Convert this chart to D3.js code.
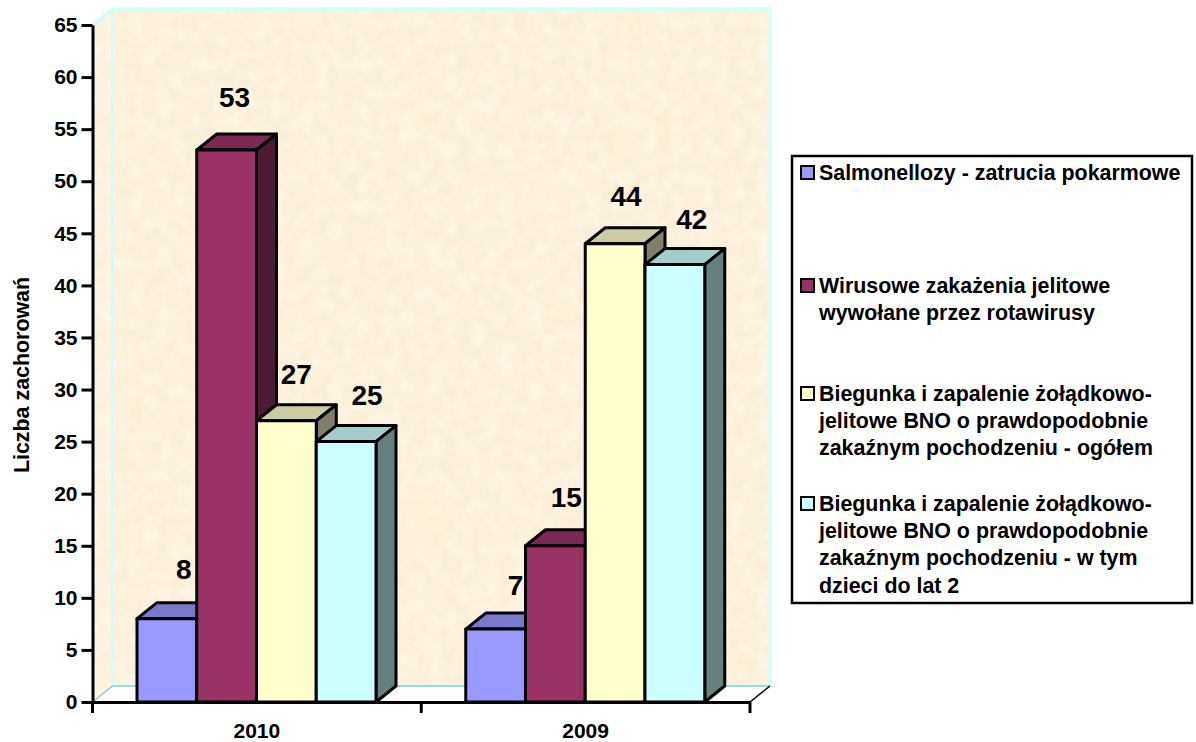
<!DOCTYPE html>
<html>
<head>
<meta charset="utf-8">
<script src="https://cdn.jsdelivr.net/npm/d3@7"></script>
<style>
  body { margin: 0; background: #fff; }
  text { font-family: "Liberation Sans", Arial, sans-serif; font-weight: bold; fill: #000; }
</style>
</head>
<body>
<div id="chart"></div>
<script>
const years = ["2010", "2009"];
const seriesNames = ["salmonella", "rota", "total", "kids"];
const salmonella = [8, 7];
const rota = [53, 15];
const total = [27, 44];
const kids = [25, 42];
const colors = ["#9999ff", "#993366", "#ffffcc", "#ccffff"];
const yTicks = d3.range(0, 70, 5);
const legendLines = [
  ["Salmonellozy - zatrucia pokarmowe"],
  ["Wirusowe zakażenia jelitowe", "wywołane przez rotawirusy"],
  ["Biegunka i zapalenie żołądkowo-", "jelitowe BNO o prawdopodobnie", "zakaźnym pochodzeniu - ogółem"],
  ["Biegunka i zapalenie żołądkowo-", "jelitowe BNO o prawdopodobnie", "zakaźnym pochodzeniu - w tym", "dzieci do lat 2"]
];

const values = [salmonella, rota, total, kids];
const depthX = 20;
const depthY = 16;

const svg = d3.select("#chart").append("svg").attr("width", 1196).attr("height", 742).style("display", "block");

const x = d3.scaleBand().domain(years).range([92.5, 750]);
// bars fill most of the band, no gap between series
const x1 = d3.scaleBand().domain(seriesNames).range([44.5, 283.5]);
const y = d3.scaleLinear().domain([0, 65]).range([702, 25]);

// paper-like texture for the walls
const defs = svg.append("defs");
const paper = defs.append("filter").attr("id", "paper").attr("x", 0).attr("y", 0).attr("width", 1).attr("height", 1)
  .attr("color-interpolation-filters", "sRGB");
paper.append("feTurbulence").attr("type", "fractalNoise").attr("baseFrequency", 0.07).attr("numOctaves", 2).attr("seed", 4).attr("result", "n");
paper.append("feColorMatrix").attr("in", "n").attr("type", "matrix")
  .attr("values", "0 0 0 0 1  0 0 0 0 0.965  0 0 0 0 0.9  2.2 0 0 0 -0.75").attr("result", "spots");
paper.append("feMerge").call((m) => {
  m.append("feMergeNode").attr("in", "SourceGraphic");
  m.append("feMergeNode").attr("in", "spots");
});

const [x0, xEnd] = x.range();
const yBase = y(0);
const yTop = y(65);
const pts = (a) => a.map((p) => p.join(",")).join(" ");

// side wall
svg.append("polygon")
  .attr("points", pts([[x0, yTop], [x0 + depthX, yTop - depthY], [x0 + depthX, yBase - depthY], [x0, yBase]]))
  .attr("fill", "#fcf1dc").attr("filter", "url(#paper)");
// back wall
svg.append("rect")
  .attr("x", x0 + depthX).attr("y", yTop - depthY)
  .attr("width", xEnd - x0).attr("height", yBase - yTop)
  .attr("fill", "#fbefd8").attr("filter", "url(#paper)");
svg.append("path")
  .attr("d", `M${x0},${yTop}L${x0 + depthX},${yTop - depthY}H${xEnd + depthX}V${yBase - depthY}H${x0 + depthX}V${yTop - depthY}`)
  .attr("fill", "none").attr("stroke", "#ccffff").attr("stroke-width", 3);
// floor
svg.append("path")
  .attr("d", `M${x0},${yBase}L${x0 + depthX},${yBase - depthY}H${xEnd + depthX}`)
  .attr("fill", "none").attr("stroke", "#99cccc").attr("stroke-width", 1.5);
svg.append("path")
  .attr("d", `M${xEnd},${yBase}L${xEnd + depthX},${yBase - depthY}`)
  .attr("fill", "none").attr("stroke", "#000").attr("stroke-width", 1.5);

// 3d bars, left to right so the next front hides the previous side
const shade = (c, k) => {
  const r = d3.rgb(c);
  return d3.rgb(r.r * k, r.g * k, r.b * k).formatHex();
};
years.forEach((year, i) => {
  seriesNames.forEach((name, s) => {
    const left = x(year) + x1(name);
    const w = x1.bandwidth();
    const top = y(values[s][i]);
    const g = svg.append("g").attr("stroke", "#000").attr("stroke-width", 3).attr("stroke-linejoin", "round");
    g.append("polygon")
      .attr("points", pts([[left, top], [left + depthX, top - depthY], [left + w + depthX, top - depthY], [left + w, top]]))
      .attr("fill", shade(colors[s], 0.8));
    g.append("polygon")
      .attr("points", pts([[left + w, top], [left + w + depthX, top - depthY], [left + w + depthX, yBase - depthY], [left + w, yBase]]))
      .attr("fill", shade(colors[s], 0.5));
    g.append("rect")
      .attr("x", left).attr("y", top).attr("width", w).attr("height", yBase - top)
      .attr("fill", colors[s]);
  });
});

// value labels, hand nudged like the moved labels in the original
const nudgeX = [[1, -8, -6, 5], [4, -5, -5, 1]];
const nudgeY = [[-2, -5, 1, 1], [4, -1, 0, 2]];
years.forEach((year, i) => {
  seriesNames.forEach((name, s) => {
    svg.append("text")
      .attr("x", x(year) + x1(name) + x1.bandwidth() / 2 + 16 + nudgeX[i][s])
      .attr("y", y(values[s][i]) - depthY - 22 + nudgeY[i][s])
      .attr("text-anchor", "middle")
      .attr("font-size", 28)
      .text(values[s][i]);
  });
});

// axes
const yAxis = svg.append("g")
  .attr("transform", `translate(${x0},0)`)
  .call(d3.axisLeft(y).tickValues(yTicks).tickSize(20).tickPadding(2).tickSizeOuter(0));
yAxis.selectAll(".tick line").attr("x1", -11).attr("x2", 0);
yAxis.selectAll("text").attr("x", -15);
const xAxis = svg.append("g")
  .attr("transform", `translate(0,${yBase})`)
  .call(d3.axisBottom(x).tickSize(0).tickPadding(21).tickSizeOuter(0));
[x0, x0 + x.bandwidth(), xEnd].forEach((t) => {
  xAxis.append("line").attr("x1", t).attr("x2", t).attr("y1", 0).attr("y2", 11);
});
svg.selectAll(".domain, .tick line").attr("stroke", "#000").attr("stroke-width", 3);
xAxis.selectAll("line").attr("stroke", "#000").attr("stroke-width", 3);
svg.selectAll(".tick text").attr("font-size", 21).attr("fill", "#000").style("font-family", "'Liberation Sans', Arial, sans-serif");

svg.append("text")
  .attr("transform", "translate(28.5,375) rotate(-90)")
  .attr("text-anchor", "middle")
  .attr("font-size", 21.4)
  .text("Liczba zachorowań");

// legend
const legend = svg.append("g");
legend.append("rect")
  .attr("x", 792).attr("y", 156).attr("width", 400).attr("height", 447)
  .attr("fill", "#fff").attr("stroke", "#000").attr("stroke-width", 2.5);
const legendTop = [173, 286, 394, 504];
legendLines.forEach((lines, s) => {
  legend.append("rect")
    .attr("x", 801).attr("y", legendTop[s] - 7).attr("width", 13).attr("height", 13)
    .attr("fill", colors[s]).attr("stroke", "#000").attr("stroke-width", 2);
  legend.append("text")
    .attr("font-size", 21.4)
    .selectAll("tspan")
    .data(lines)
    .join("tspan")
    .attr("x", 819)
    .attr("y", (d, j) => legendTop[s] + 7 + j * 27.2)
    .text((d) => d);
});
</script>
</body>
</html>
